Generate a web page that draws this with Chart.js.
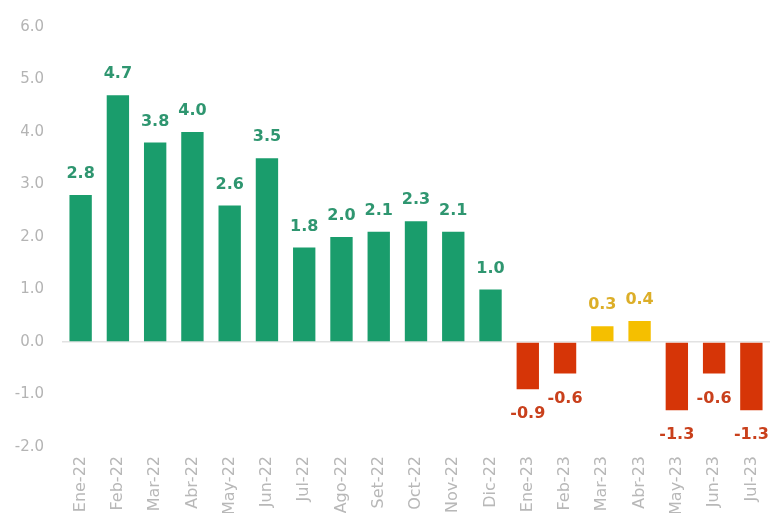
<!DOCTYPE html>
<html>
<head>
<meta charset="utf-8">
<script src="https://cdn.jsdelivr.net/npm/chart.js@4/dist/chart.umd.min.js"></script>
<style>
    html, body { margin: 0; padding: 0; background: #fff; overflow: hidden; }
    #wrap { position: relative; width: 770px; height: 530px; }
</style>
</head>
<body>
<div id="wrap"><canvas id="graphic"></canvas></div>
<script>
const meses = ['Ene-22', 'Feb-22', 'Mar-22', 'Abr-22', 'May-22', 'Jun-22', 'Jul-22', 'Ago-22', 'Set-22',
    'Oct-22', 'Nov-22', 'Dic-22', 'Ene-23', 'Feb-23', 'Mar-23', 'Abr-23', 'May-23', 'Jun-23', 'Jul-23'];
const variacion = [2.8, 4.7, 3.8, 4.0, 2.6, 3.5, 1.8, 2.0, 2.1, 2.3, 2.1, 1.0, -0.9, -0.6, 0.3, 0.4, -1.3, -0.6, -1.3];
const y_ticks = [6, 5, 4, 3, 2, 1, 0, -1, -2];

// green for 2022, then red when negative and yellow when positive in 2023
const colorBarra = (v, i) => i < 12 ? '#1a9d6c' : (v < 0 ? '#d63507' : '#f5bf00');
const colorTexto = (v, i) => i < 12 ? '#2f9670' : (v < 0 ? '#c9401c' : '#dcae28');

const etiquetas = {
    id: 'etiquetas',
    afterDatasetsDraw(chart) {
        const ctx = chart.ctx;
        const meta = chart.getDatasetMeta(0);
        ctx.save();
        ctx.font = 'bold 16px "DejaVu Sans"';
        ctx.textAlign = 'center';
        ctx.textBaseline = 'middle';
        meta.data.forEach((bar, i) => {
            const v = variacion[i];
            ctx.fillStyle = colorTexto(v, i);
            const y = v >= 0 ? bar.y - 21 : bar.y + 25;
            ctx.fillText(v.toFixed(1), bar.x, y);
        });
        ctx.restore();
    }
};

const ctx = document.getElementById('graphic');
new Chart(ctx, {
    type: 'bar',
    data: {
        labels: meses,
        datasets: [{
            data: variacion,
            backgroundColor: variacion.map(colorBarra),
            barPercentage: 0.6,
            categoryPercentage: 1.0
        }]
    },
    options: {
        responsive: true,
        maintainAspectRatio: false,
        animation: false,
        layout: { padding: { top: 26, right: -10, left: 0, bottom: 0 } },
        plugins: {
            legend: { display: false },
            tooltip: { enabled: false }
        },
        scales: {
            y: {
                min: -2,
                max: 6,
                afterFit: (scale) => { scale.width = 62; },
                afterBuildTicks: (scale) => {
                    scale.ticks = y_ticks.map(v => ({ value: v }));
                },
                ticks: {
                    padding: 18,
                    color: '#b4b4b4',
                    font: { family: 'DejaVu Sans', size: 15 },
                    callback: (value) => Number(value).toFixed(1)
                },
                grid: {
                    drawTicks: false,
                    color: (c) => c.tick && c.tick.value === 0 ? '#e2e2e2' : 'rgba(0,0,0,0)',
                    lineWidth: 1.5
                },
                border: { display: false }
            },
            x: {
                afterFit: (scale) => {
                    scale.height = 83;
                    scale.paddingRight = 0;
                },
                ticks: {
                    color: '#b8b8b8',
                    font: { family: 'DejaVu Sans', size: 16 },
                    minRotation: 90,
                    maxRotation: 90,
                    autoSkip: false,
                    padding: 9
                },
                grid: { display: false, drawTicks: false },
                border: { display: false }
            }
        }
    },
    plugins: [etiquetas]
});
</script>
</body>
</html>
